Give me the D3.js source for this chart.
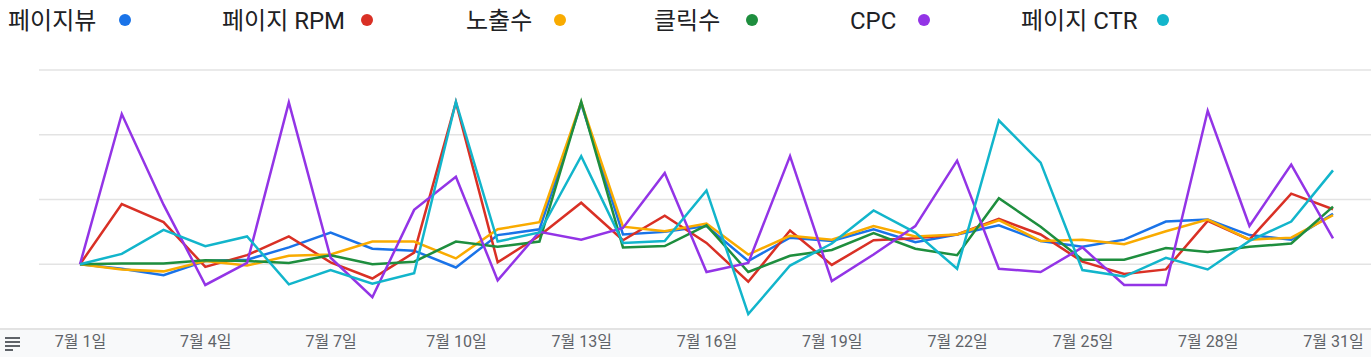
<!DOCTYPE html>
<html><head><meta charset="utf-8">
<script src="https://cdn.jsdelivr.net/npm/d3@7"></script>
<style>
html,body{margin:0;padding:0;background:#fff;}
svg{display:block;font-family:Roboto,"Noto Sans CJK KR",sans-serif;}
</style></head>
<body><svg id="c" width="1371" height="357"></svg>
<script>
const days = d3.range(1, 32);
const tickDays = [1,4,7,10,13,16,19,22,25,28,31];
const tickLabels = tickDays.map(d => `7월 ${d}일`);
const seriesNames = ["페이지뷰","페이지 RPM","노출수","클릭수","CPC","페이지 CTR"];
const seriesColors = ["#1a73e8","#d93025","#f9ab00","#1e8e3e","#9334e6","#12b5cb"];
const pageViews = [0,-7,-17,5,7,26,49,24,21,-5,45,54,248,46,50,59,5,41,36,54,34,46,60,36,27,38,66,69,45,38,78];
const pageRpm   = [0,93,65,-4,14,43,3,-22,18,250,3,44,95,37,75,33,-27,52,-1,37,40,46,70,46,4,-15,-8,67,38,109,85];
const impressions=[0,-8,-11,5,-2,13,15,35,35,9,54,65,250,58,51,63,15,44,38,59,43,46,68,36,38,31,51,69,38,41,76];
const clicks    = [0,1,1,6,5,2,14,0,4,35,27,35,251,26,28,60,-12,13,22,48,24,14,102,58,7,7,25,19,27,32,89];
const cpc       = [0,232,92,-32,2,250,10,-51,84,135,-25,50,38,56,141,-12,2,167,-26,15,59,160,-7,-12,26,-32,-32,237,59,154,40];
const pageCtr   = [0,16,53,28,43,-31,-9,-30,-14,251,35,49,167,33,36,114,-77,-2,32,83,49,-7,222,157,-9,-19,10,-8,36,66,145];
const seriesValues = [pageViews,pageRpm,impressions,clicks,cpc,pageCtr];
const gridValues = [0,100,200,300];

const svg = d3.select("#c");
const x = d3.scaleLinear().domain([1,31]).range([80,1333]);
const y = d3.scaleLinear().domain([-100,300]).range([329,70]);

// grid
svg.append("g").selectAll("line").data(gridValues).join("line")
  .attr("x1",39).attr("x2",1371).attr("y1",d=>y(d)).attr("y2",d=>y(d))
  .attr("stroke","#e3e3e3").attr("stroke-width",1.5);

// axis band
svg.append("rect").attr("x",0).attr("y",330).attr("width",1371).attr("height",27).attr("fill","#f8f9fa");
svg.append("line").attr("x1",0).attr("x2",1371).attr("y1",329).attr("y2",329).attr("stroke","#e3e3e3").attr("stroke-width",2);

const xAxis = d3.axisBottom(x).tickValues(tickDays).tickFormat((d,i)=>tickLabels[i]).tickSize(0).tickPadding(0);
const ax = svg.append("g").attr("transform","translate(0,336)").call(xAxis);
ax.select(".domain").remove();
ax.selectAll("text").attr("fill","#5f6368").attr("font-size","16px").attr("dy","0.71em")
  .attr("font-family","Roboto,'Noto Sans CJK KR',sans-serif");

// menu icon
const menu = svg.append("g").attr("fill","#5f6368");
[[337,15],[341,15],[345,15],[349,8]].forEach(([yy,w])=>menu.append("rect").attr("x",5).attr("y",yy).attr("width",w).attr("height",2));

// lines
const line = d3.line().x((d,i)=>x(days[i])).y(d=>y(d));
svg.append("g").selectAll("path").data(seriesValues).join("path")
  .attr("d",d=>line(d)).attr("fill","none")
  .attr("stroke",(d,i)=>seriesColors[i]).attr("stroke-width",2.5)
  .attr("stroke-linejoin","miter").attr("stroke-miterlimit",10);

// legend
const legTextX = [8,222,466,654,850,1021];
const legDotX = [125,367,560,752,924,1163];
const leg = svg.append("g");
seriesNames.forEach((n,i)=>{
  leg.append("text").attr("x",legTextX[i]).attr("y",29).attr("font-size","24px").attr("fill","#202124")
    .attr("font-family","Roboto,'Noto Sans CJK KR',sans-serif").text(n);
  leg.append("circle").attr("cx",legDotX[i]).attr("cy",20).attr("r",6).attr("fill",seriesColors[i]);
});
</script></body></html>
